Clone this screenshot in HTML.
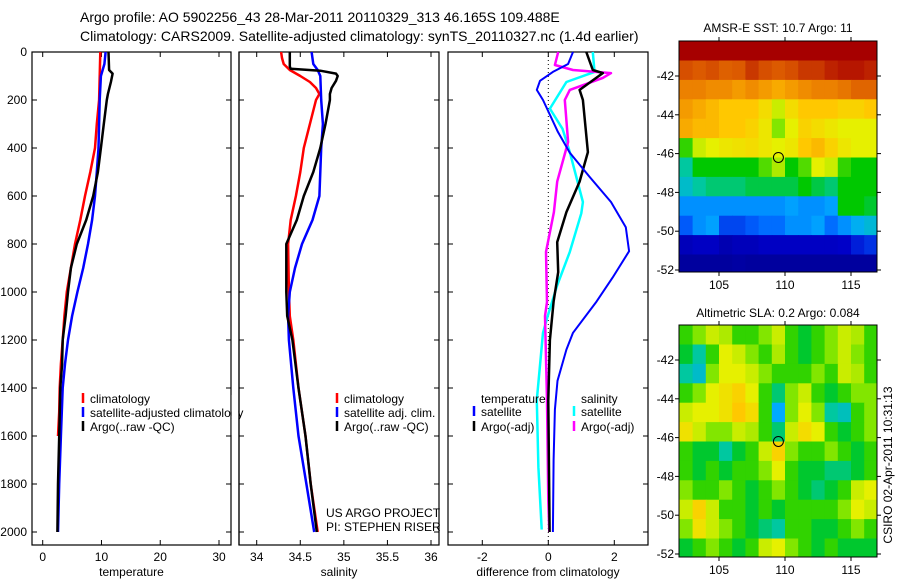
<!DOCTYPE html>
<html><head><meta charset="utf-8"><style>
body{margin:0;background:#fff;}
svg{display:block;font-family:"Liberation Sans",sans-serif;}
</style></head><body>
<svg id="c" width="900" height="580" viewBox="0 0 900 580">
<defs>
<clipPath id="clip1"><rect x="679" y="41" width="198" height="231"/></clipPath>
<clipPath id="clip2"><rect x="679" y="325" width="198" height="232"/></clipPath>
</defs>
<text x="80" y="22" font-size="14">Argo profile: AO 5902256_43 28-Mar-2011 20110329_313 46.165S 109.488E</text>
<text x="80" y="41" font-size="14">Climatology: CARS2009. Satellite-adjusted climatology: synTS_20110327.nc (1.4d earlier)</text>
<text x="778" y="32" font-size="12" text-anchor="middle">AMSR-E SST: 10.7 Argo: 11</text>
<text x="778" y="317" font-size="12" text-anchor="middle">Altimetric SLA: 0.2 Argo: 0.084</text>
<text transform="translate(892,465) rotate(-90)" font-size="12" text-anchor="middle">CSIRO 02-Apr-2011 10:31:13</text>
<text x="326" y="517" font-size="12">US ARGO PROJECT</text>
<text x="326" y="531" font-size="12">PI: STEPHEN RISER</text>
</svg>
<script>
// ---- data ----
const depthTicks=[0,200,400,600,800,1000,1200,1400,1600,1800,2000];
const tempTicks=[0,10,20,30];
const salTicks=[34,34.5,35,35.5,36];
const diffTicks=[-2,0,2];
const latTicks=[-42,-44,-46,-48,-50,-52];
const lonTicks=[105,110,115];

const tClimD=[0,100,200,300,400,500,600,700,800,900,1000,1100,1200,1300,1400,1500,1600];
const tClimV=[9.8,9.7,9.6,9.2,8.9,8.1,7.2,6.4,5.5,4.8,4.1,3.7,3.4,3.1,2.9,2.8,2.6];
const tSatD=[0,50,100,200,400,500,600,700,800,900,1000,1100,1200,1300,1400,1600,1800,2000];
const tSatV=[10.7,10.5,9.9,9.7,9.5,9.2,8.9,8.4,7.7,6.9,5.9,5.0,4.3,3.8,3.4,3.1,2.8,2.6];
const tArgD=[0,75,90,125,175,200,300,400,500,600,700,800,900,1000,1100,1200,1300,1400,1600,1800,2000];
const tArgV=[11.2,11.3,11.9,11.6,11.1,10.9,10.4,9.9,9.4,8.6,7.4,5.8,4.8,4.3,3.9,3.4,3.3,3.0,2.8,2.6,2.5];

const sClimD=[0,25,50,75,100,125,150,175,200,300,400,500,600,700,800,1000,1100,1200,1400,1600,1800,2000];
const sClimV=[34.28,34.29,34.31,34.38,34.5,34.61,34.68,34.72,34.68,34.61,34.54,34.5,34.45,34.39,34.36,34.37,34.38,34.42,34.48,34.56,34.62,34.70];
const sSatD=[0,50,75,100,200,300,400,500,600,700,800,900,1000,1100,1200,1400,1600,1800,2000];
const sSatV=[34.63,34.65,34.70,34.73,34.74,34.76,34.74,34.73,34.72,34.64,34.52,34.44,34.38,34.36,34.37,34.42,34.48,34.57,34.66];
const sArgD=[0,60,70,78,90,100,120,150,175,200,300,400,500,600,700,800,900,1000,1100,1200,1400,1600,1800,2000];
const sArgV=[34.38,34.38,34.39,34.73,34.91,34.93,34.91,34.86,34.84,34.84,34.79,34.73,34.65,34.54,34.46,34.34,34.34,34.34,34.35,34.41,34.48,34.56,34.62,34.69];

const dTSatD=[0,50,83,120,158,200,333,420,520,625,730,830,940,1040,1170,1240,1370,1490,1700,2000];
const dTSatV=[0.75,0.6,0.14,-0.25,-0.35,-0.16,0.29,0.65,1.25,1.9,2.35,2.45,1.95,1.46,0.75,0.55,0.28,0.2,0.16,0.14];
const dTArgD=[0,75,88,158,200,417,540,667,792,917,1040,1200,1450,2000];
const dTArgV=[1.15,1.35,1.65,0.95,1.05,1.2,0.95,0.55,0.27,0.3,0.16,0.05,0.0,0.04];
const dSSatD=[0,83,125,236,320,417,625,672,833,972,1110,1170,1450,1730,1990];
const dSSatV=[1.35,1.4,0.55,0.05,0.43,0.65,1.05,1.0,0.65,0.27,-0.04,-0.16,-0.35,-0.3,-0.2];
const dSArgD=[0,54,75,88,108,158,200,375,540,667,833,1042,1100,1450,1870,2000];
const dSArgV=[0.3,0.2,0.75,1.9,1.65,0.65,0.5,0.6,0.27,0.17,-0.07,-0.04,-0.1,-0.04,0,0.03];

const mapLons=[102.5,103.5,104.5,105.5,106.5,107.5,108.5,109.5,110.5,111.5,112.5,113.5,114.5,115.5,116.5];
const mapLats=[-40.7,-41.7,-42.7,-43.7,-44.7,-45.7,-46.7,-47.7,-48.7,-49.7,-50.7,-51.7];
const sstGrid=[
[.97,.97,.97,.97,.97,.97,.97,.97,.97,.97,.97,.97,.97,.97,.97],
[.88,.87,.88,.86,.87,.9,.88,.87,.88,.9,.9,.92,.93,.93,.92],
[.8,.8,.78,.78,.76,.78,.76,.74,.76,.78,.8,.8,.82,.85,.85],
[.76,.74,.72,.7,.7,.7,.66,.6,.66,.7,.7,.7,.68,.68,.7],
[.74,.72,.72,.7,.7,.68,.64,.55,.62,.68,.66,.64,.62,.62,.62],
[.5,.6,.62,.64,.65,.66,.64,.62,.64,.7,.72,.68,.64,.62,.62],
[.4,.47,.47,.47,.47,.47,.52,.58,.47,.52,.62,.6,.5,.47,.47],
[.37,.4,.42,.42,.42,.44,.44,.44,.44,.47,.44,.42,.47,.47,.47],
[.3,.3,.3,.3,.3,.3,.3,.3,.32,.3,.3,.32,.47,.47,.45],
[.24,.3,.32,.22,.22,.24,.26,.26,.3,.3,.32,.26,.3,.34,.36],
[.12,.14,.14,.1,.12,.12,.14,.14,.14,.14,.14,.14,.15,.18,.2],
[.06,.06,.06,.06,.07,.06,.06,.06,.06,.06,.06,.06,.06,.06,.06]];
const slaGrid=[
[.5,.55,.6,.58,.5,.5,.55,.6,.5,.45,.5,.55,.6,.58,.5],
[.45,.4,.5,.62,.6,.55,.5,.58,.5,.45,.5,.55,.6,.55,.5],
[.4,.37,.55,.62,.62,.6,.55,.5,.5,.5,.55,.5,.6,.58,.5],
[.5,.55,.62,.65,.68,.62,.5,.42,.55,.6,.5,.45,.5,.55,.55],
[.6,.62,.62,.65,.7,.66,.5,.33,.55,.62,.55,.4,.38,.5,.55],
[.65,.6,.55,.55,.6,.58,.5,.42,.6,.66,.62,.5,.45,.5,.55],
[.5,.45,.45,.4,.45,.5,.6,.68,.55,.5,.5,.55,.5,.45,.5],
[.5,.45,.5,.45,.5,.5,.55,.62,.5,.45,.45,.42,.42,.45,.5],
[.55,.5,.5,.55,.5,.45,.5,.55,.5,.45,.42,.45,.5,.6,.62],
[.6,.68,.6,.5,.5,.45,.5,.45,.5,.5,.5,.5,.55,.62,.6],
[.55,.65,.6,.55,.5,.45,.42,.4,.5,.5,.45,.45,.5,.55,.5],
[.45,.5,.55,.5,.45,.5,.6,.62,.55,.5,.45,.5,.45,.45,.45]];
const floatLon=109.5, floatLat=-46.2;

// ---- drawing ----
const NS="http://www.w3.org/2000/svg";
const svg=document.getElementById('c');
function mk(tag,attrs,parent){const e=document.createElementNS(NS,tag);for(const k in attrs)e.setAttribute(k,attrs[k]);(parent||svg).appendChild(e);return e;}
const yTop=52,yBot=545;
const yD=d=>52+d*0.24;
function lin(d0,d1,p0,p1){return v=>p0+(v-d0)*(p1-p0)/(d1-d0);}

function panel(name,x0,x1,xs,xticks,xtitle,showY){
  const g=mk('g',{});
  
  
  const r=mk('rect',{x:x0,y:yTop,width:x1-x0,height:yBot-yTop,fill:'none',stroke:'#000','stroke-width':1.2},g);
  
  
  depthTicks.forEach(d=>{
    mk('line',{x1:x0,x2:x0+5,y1:yD(d),y2:yD(d),stroke:'#000'},g);
    mk('line',{x1:x1,x2:x1-5,y1:yD(d),y2:yD(d),stroke:'#000'},g);
    if(showY){const t=mk('text',{x:x0-5,y:yD(d)+4,'font-size':12,'text-anchor':'end'},g);t.textContent=d;
      
      }
  });
  xticks.forEach(v=>{
    const x=xs(v);
    mk('line',{x1:x,x2:x,y1:yBot,y2:yBot-5,stroke:'#000'},g);
    mk('line',{x1:x,x2:x,y1:yTop,y2:yTop+5,stroke:'#000'},g);
    const t=mk('text',{x:x,y:yBot+16,'font-size':12,'text-anchor':'middle'},g);t.textContent=v;
    
    
  });
  const tt=mk('text',{x:(x0+x1)/2,y:576,'font-size':12,'text-anchor':'middle'},g);tt.textContent=xtitle;
  
  
  return g;
}
function series(name,ds,vs,xs,color,w){
  const p=mk('polyline',{points:ds.map((d,i)=>xs(vs[i]).toFixed(1)+','+yD(d).toFixed(1)).join(' '),fill:'none',stroke:color,'stroke-width':w||2.5,'stroke-linejoin':'round'});
  
  
}
function legendItem(name,x,y,color,label){
  if(color){const l=mk('line',{x1:x,x2:x,y1:y-10,y2:y,stroke:color,'stroke-width':2.5});
    
    }
  const t=mk('text',{x:x+7,y:y,'font-size':12});t.textContent=label;
  
  
}

// temperature
const xT=lin(0,30,42.7,219);
panel('temperature-panel',32,231,xT,tempTicks,'temperature',true);
series('temp-climatology-line',tClimD,tClimV,xT,'#f00');
series('temp-satellite-line',tSatD,tSatV,xT,'#00f');
series('temp-argo-line',tArgD,tArgV,xT,'#000');
legendItem('temp-legend-climatology',83,403,'#f00','climatology');
legendItem('temp-legend-satellite',83,417,'#00f','satellite-adjusted climatology');
legendItem('temp-legend-argo',83,431,'#000','Argo(..raw -QC)');
mk('rect',{x:231.6,y:395,width:6.8,height:40,fill:'#fff'});
mk('line',{x1:239,x2:239,y1:yTop,y2:yBot,stroke:'#000','stroke-width':1.2});

// salinity
const xS=lin(34,36,256.7,431);
panel('salinity-panel',239,439,xS,salTicks,'salinity',false);
series('sal-climatology-line',sClimD,sClimV,xS,'#f00');
series('sal-satellite-line',sSatD,sSatV,xS,'#00f');
series('sal-argo-line',sArgD,sArgV,xS,'#000');
legendItem('sal-legend-climatology',337,403,'#f00','climatology');
legendItem('sal-legend-satellite',337,417,'#00f','satellite adj. clim.');
legendItem('sal-legend-argo',337,431,'#000','Argo(..raw -QC)');

// difference
const xDf=lin(0,2,548.3,614.3);
panel('difference-panel',448,648,xDf,diffTicks,'difference from climatology',false);
mk('line',{x1:xDf(0),x2:xDf(0),y1:yTop,y2:yBot,stroke:'#000','stroke-dasharray':'1,3'});
series('diff-sal-satellite-line',dSSatD,dSSatV,xDf,'#0ff');
series('diff-sal-argo-line',dSArgD,dSArgV,xDf,'#f0f');
series('diff-temp-argo-line',dTArgD,dTArgV,xDf,'#000');
series('diff-temp-satellite-line',dTSatD,dTSatV,xDf,'#00f',2);
legendItem('diff-legend-temperature-head',474,403,null,'temperature');
legendItem('diff-legend-temp-satellite',474,416,'#00f','satellite');
legendItem('diff-legend-temp-argo',474,431,'#000','Argo(-adj)');
legendItem('diff-legend-salinity-head',574,403,null,'salinity');
legendItem('diff-legend-sal-satellite',574,416,'#0ff','satellite');
legendItem('diff-legend-sal-argo',574,431,'#f0f','Argo(-adj)');

// maps
const cmStops=[[0,0,0,130],[0.15,0,0,200],[0.25,0,100,255],[0.33,0,170,255],[0.4,0,200,160],[0.47,0,200,0],[0.55,130,230,0],[0.62,230,240,0],[0.7,255,200,0],[0.78,240,140,0],[0.87,220,90,0],[0.95,170,0,0],[1,160,0,0]];
function cmap(v){
  for(let i=1;i<cmStops.length;i++){
    if(v<=cmStops[i][0]){const a=cmStops[i-1],b=cmStops[i],t=(v-a[0])/(b[0]-a[0]);
      return 'rgb('+[1,2,3].map(k=>Math.round(a[k]+(b[k]-a[k])*t)).join(',')+')';}
  }
  return 'rgb(160,0,0)';
}
function mapPanel(name,y0,y1,latRef,grid,clip){
  const x0=679,x1=877;
  const xs=lin(105,115,719,851), ys=lin(-42,-52,latRef[0],latRef[1]);
  const g=mk('g',{});
  
  
  const cells=mk('g',{'clip-path':'url(#'+clip+')'},g);
  const cw=xs(1)-xs(0), ch=ys(-1)-ys(0);
  grid.forEach((row,i)=>row.forEach((v,j)=>{
    const cx=xs(mapLons[j]), cy=ys(mapLats[i]);
    const r=mk('rect',{x:(cx-cw/2).toFixed(1),y:(cy-ch/2).toFixed(1),width:(cw+0.6).toFixed(1),height:(ch+0.6).toFixed(1),fill:cmap(v)},cells);
    
    
  }));
  const f=mk('rect',{x:x0,y:y0,width:x1-x0,height:y1-y0,fill:'none',stroke:'#000'},g);
  
  
  latTicks.forEach(l=>{const y=ys(l);
    mk('line',{x1:x0,x2:x0-4,y1:y,y2:y,stroke:'#000'},g);
    mk('line',{x1:x1,x2:x1+4,y1:y,y2:y,stroke:'#000'},g);
    const t=mk('text',{x:x0-5,y:y+4,'font-size':12,'text-anchor':'end'},g);t.textContent=l;
    
    });
  lonTicks.forEach(l=>{const x=xs(l);
    mk('line',{x1:x,x2:x,y1:y1,y2:y1+4,stroke:'#000'},g);
    mk('line',{x1:x,x2:x,y1:y0,y2:y0-4,stroke:'#000'},g);
    const t=mk('text',{x:x,y:y1+17,'font-size':12,'text-anchor':'middle'},g);t.textContent=l;
    
    });
  const c=mk('circle',{cx:xs(floatLon),cy:ys(floatLat),r:5,fill:'none',stroke:'#000','stroke-width':1},g);
  
  
}
mapPanel('sst-map',41,272,[76,270],sstGrid,'clip1');
mapPanel('sla-map',325,557,[360,554],slaGrid,'clip2');
</script>
</body></html>
